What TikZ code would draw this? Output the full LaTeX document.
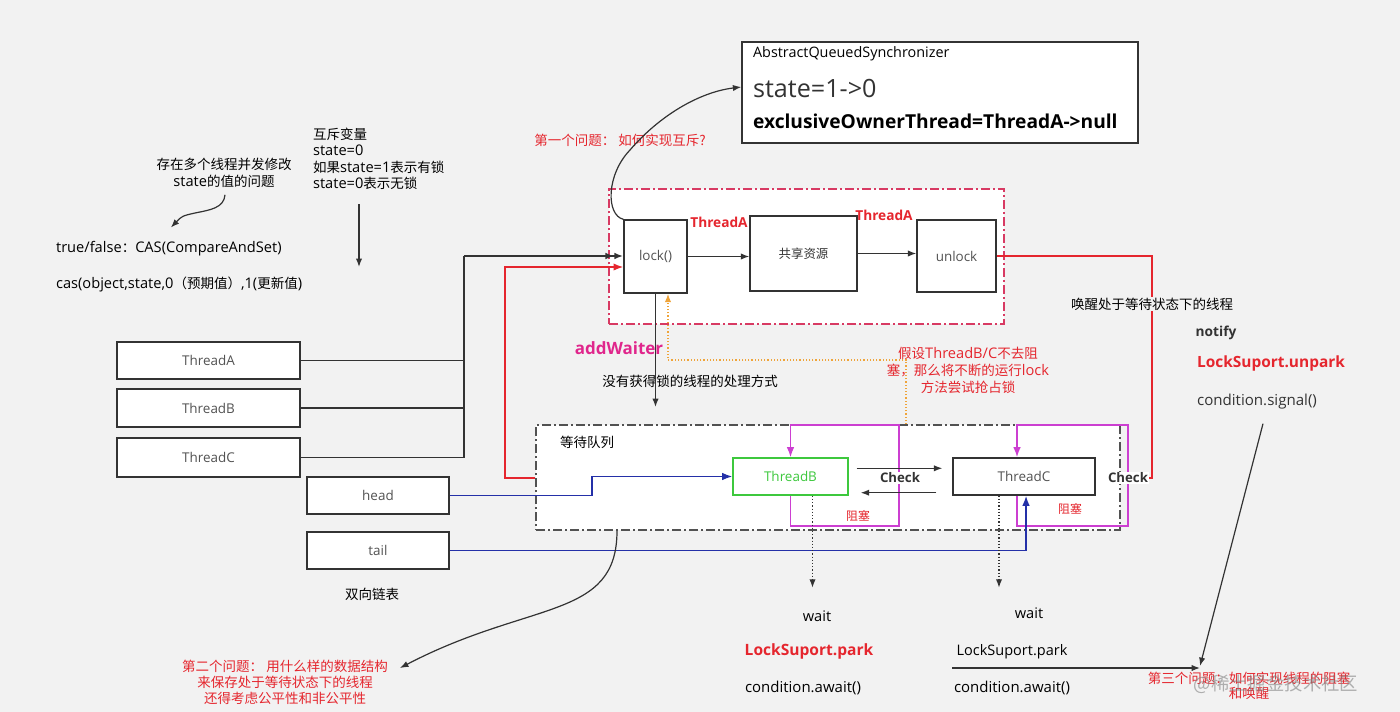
\documentclass[tikz,border=0pt]{standalone}
\usepackage{fontspec}
\setmainfont{Open Sans}[Scale=1.17]
\newfontfamily\cjk{Noto Sans CJK SC}[Scale=1.08]
\usetikzlibrary{arrows.meta,calc}
\definecolor{bg}{HTML}{F2F2F2}
\definecolor{k}{HTML}{333333}
\definecolor{r}{HTML}{E5262E}
\definecolor{pk}{HTML}{D83A63}
\definecolor{mg}{HTML}{E0268C}
\definecolor{m}{HTML}{CC3FD1}
\definecolor{B}{HTML}{2430A8}
\definecolor{g}{HTML}{3DC83D}
\definecolor{o}{HTML}{EFA43A}
\def\fs#1{\fontsize{#1}{#1}\selectfont}
\def\zh#1{{\cjk #1}}

\begin{document}
\begin{tikzpicture}[x=1pt,y=-1pt,font=\fs{12.5},>=Latex,
  box/.style={draw=k,fill=white,line width=1.4pt,text=k!85,font=\fs{11.5}},
  ln/.style={draw=k,line width=1.2pt},
  chain/.style={dash pattern=on 9pt off 3pt on 2pt off 3pt},
  red/.style={text=r}]
  \fill[bg] (0,0) rectangle (1400,712);
  \useasboundingbox (0,0) rectangle (1400,712);

  % notes on the left
  \node[align=center,font=\fontsize{12.5}{17}\selectfont] (race) at (224,173) {\zh{存在多个线程并发修改}\\state\zh{的值的问题}};
  \node[anchor=west] (cas) at (52,249) {true/false\zh{：}CAS(CompareAndSet)};
  \node[anchor=west] (casfn) at (52,284) {cas(object,state,0\zh{（预期值）},1(\zh{更新值})};
  \draw[ln,-{Latex}] ($(race.south)+(1,3)$) .. controls (224,208) and (210,210) .. (195,213)
    .. controls (182,216) .. ($(cas.north)+(2,-10)$);
  \node[anchor=north west,align=left,font=\fontsize{12.5}{16.3}\selectfont] (mutex) at (309,124)
    {\zh{互斥变量}\\state=0\\\zh{如果}state=1\zh{表示有锁}\\state=0\zh{表示无锁}};
  \coordinate (m0) at (359,204);
  \draw[ln,-{Latex}] (m0) -- ++(0,63);

  % AQS
  \node[box,minimum width=396,minimum height=101] (aqs) at (940,92.5) {};
  \node[anchor=west,font=\fs{12.3}] (aqsT) at (749,54) {AbstractQueuedSynchronizer};
  \node[anchor=west,font=\fs{21.5},text=k] (aqsS) at (749,89) {state=1->0};
  \node[anchor=west,font=\fs{16.4}\bfseries] (aqsO) at (749,121) {exclusiveOwnerThread=ThreadA->null};
  \node[red] (q1) at (620,140) {\zh{第一个问题： 如何实现互斥?}};

  % critical section
  \node[draw=pk,fill=white,line width=2pt,chain,minimum width=395,minimum height=135] (crit) at (806.5,256.5) {};
  \node[box,minimum width=63,minimum height=73] (lock) at (655.5,256.5) {lock()};
  \node[box,minimum width=107,minimum height=75,text=k] (res) at (803.5,253.5) {\zh{共享资源}};
  \node[box,minimum width=79,minimum height=72] (unlock) at (956.5,256) {unlock};
  \node[red,font=\fs{11.7}\bfseries] (ta1) at (719,222) {ThreadA};
  \node[red,font=\fs{11.7}\bfseries] (ta2) at (884,215) {ThreadA};
  \draw[ln,-{Latex}] (lock.east) -- (lock.east -| res.west);
  \draw[ln,-{Latex}] (res.east) -- (res.east -| unlock.west);
  \draw[ln,-{Latex}] (lock.north west) .. controls (606,215) and (606,175) .. (630,150)
    .. controls (660,115) and (700,92) .. (aqs.west |- 0,87);

  % threads
  \node[box,minimum width=183,minimum height=37] (tA) at (208.5,360.5) {ThreadA};
  \node[box,minimum width=183,minimum height=38] (tB) at (208.5,408) {ThreadB};
  \node[box,minimum width=183,minimum height=39] (tC) at (208.5,457.5) {ThreadC};
  \coordinate (bus) at (464,256);
  \draw[ln] (tA.east) -| (bus);
  \draw[ln] (tB.east) -| (bus);
  \draw[ln] (tC.east) -| (bus);
  \draw[ln,line width=2pt,-{Latex[length=9pt]Latex[length=9pt]}] (bus) -- (lock.west |- bus);
  \node[box,minimum width=142,minimum height=37] (head) at (378,495.5) {head};
  \node[box,minimum width=142,minimum height=37] (tail) at (378,550.5) {tail};
  \node (dll) at (372,594) {\zh{双向链表}};

  % waiting queue
  \node[draw=k!85,fill=white,line width=1.6pt,chain,minimum width=584,minimum height=105] (queue) at (828,477.5) {};
  \node[anchor=west] (qlbl) at (556,442) {\zh{等待队列}};
  \node[box,draw=g,text=g,minimum width=115,minimum height=37] (qB) at (790.5,476.5) {ThreadB};
  \node[box,minimum width=142,minimum height=37] (qC) at (1024,476.5) {ThreadC};
  \draw[draw=r,line width=1.5pt,-{Latex}] (queue.west |- 0,478) -| (505,267) -- (lock.west |- 0,267);

  \node[text=mg,font=\fs{14.5}\bfseries] (aw) at (619,348) {addWaiter};
  \node (howto) at (690,381) {\zh{没有获得锁的线程的处理方式}};
  \draw[ln,-{Latex}] (lock.south) -- (lock.south |- 0,407);
  \draw[draw=o,line width=1.2pt,dotted,-{Latex}] (queue.north -| 906,0) |- (668,360) -- (lock.south -| 668,0);
  \node[red,align=center,font=\fontsize{12.5}{17}\selectfont] (note) at (968,370)
    {\zh{假设}ThreadB/C\zh{不去阻}\\\zh{塞，那么将不断的运行}lock\\\zh{方法尝试抢占锁}};

  % blocking loops
  \draw[draw=m,line width=1.6pt,-{Latex}] (qB.south) -- (qB.south |- 0,526) -- (899,526) -- (899,425)
    -- (qB.north |- 0,425) -- (qB.north);
  \draw[draw=m,line width=1.6pt,-{Latex}] (qC.south -| 1017,0) -- (1017,526) -- (1128,526) -- (1128,425)
    -- (1017,425) -- (qC.north -| 1017,0);
  \node[red,font=\fs{11}] (blkB) at (858,516) {\zh{阻塞}};
  \node[red,font=\fs{11}] (blkC) at (1070,509) {\zh{阻塞}};

  % check
  \draw[ln,-{Latex}] ($(qB.north east)+(8,11)$) -- ($(qC.north west)+(-10,11)$);
  \draw[ln,-{Latex}] ($(qC.south west)+(-16,-3)$) -- ($(qB.south east)+(12,-3)$);
  \node[fill=white,inner sep=1pt,text=k,font=\fs{11.3}\bfseries] (chk1) at (900,478) {Check};
  \node[fill=white,inner sep=1pt,text=k,font=\fs{11.3}\bfseries] (chk2) at (1128,478) {Check};

  % head / tail links
  \draw[draw=B,line width=1.6pt,-{Latex}] (head.east) -- (592,495.5) |- (qB.west);
  \draw[draw=B,line width=1.6pt,-{Latex}] (tail.east) -| (qC.south -| 1026,0);

  % wake up
  \draw[draw=r,line width=1.5pt] (unlock.east) -| (chk2.east -| 1152,0) -- (chk2.east);
  \node[fill=bg,inner sep=1pt] (wake) at (1152,304) {\zh{唤醒处于等待状态下的线程}};
  \node[text=k,font=\fs{11.7}\bfseries] (notify) at (1216,333) {notify};
  \node[red,font=\fs{13.2}\bfseries] (unpark) at (1271,363) {LockSuport.unpark};
  \node[text=k,font=\fs{12.9}] (sig) at (1257,402) {condition.signal()};

  % park
  \draw[ln,dotted,-{Latex}] ($(qB.south)+(22,0)$) -- ($(qB.south)+(22,92)$);
  \draw[ln,dotted,-{Latex}] ($(qC.south)+(-25,0)$) -- ($(qC.south)+(-25,92)$);
  \node (wB) at (817,616) {wait};
  \node (wC) at (1029,613) {wait};
  \node[red,font=\fs{13.3}\bfseries] (parkB) at (809,651) {LockSuport.park};
  \node[font=\fs{12.4}] (parkC) at (1012,652) {LockSuport.park};
  \node[font=\fs{12.8}] (awaitB) at (803,688) {condition.await()};
  \node[font=\fs{12.8}] (awaitC) at (1012,688) {condition.await()};

  % second question
  \node[red,align=center,font=\fontsize{12.5}{16}\selectfont] (q2) at (285,682)
    {\zh{第二个问题： 用什么样的数据结构}\\\zh{来保存处于等待状态下的线程}\\\zh{还得考虑公平性和非公平性}};
  \draw[ln,-{Latex}] (queue.south -| 617,0) .. controls (617,620) and (530,600) .. (400,668);

  % third question
  \node[red,align=center,font=\fontsize{12.5}{15}\selectfont] (q3) at (1249,686) {\zh{第三个问题：如何实现线程的阻塞}\\\zh{和唤醒}};
  \coordinate (hline) at (952,668);
  \coordinate (hit) at (1200,666);
  \draw[ln,-{Latex}] (hline) -- (hit |- hline);
  \draw[ln,-{Latex}] ($(sig.south)+(6,10)$) -- (hit);
  \node[text=gray,opacity=.6,font=\fs{17}] (wm) at (1276,684) {\zh{@稀土掘金技术社区}};
\end{tikzpicture}
\end{document}
